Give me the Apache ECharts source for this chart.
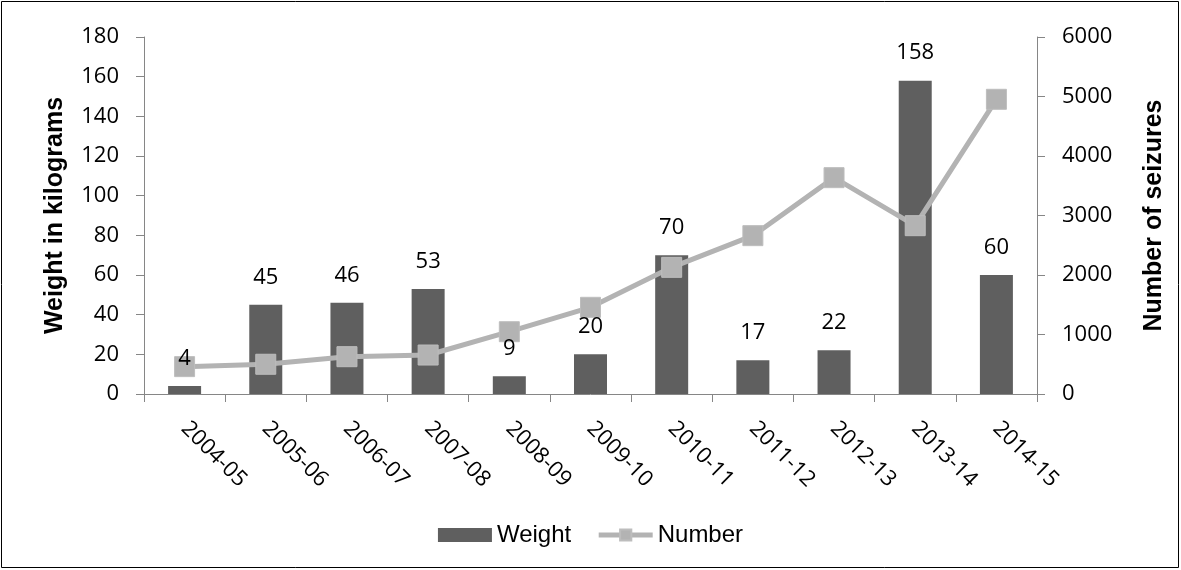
<!DOCTYPE html>
<html>
<head>
<meta charset="utf-8">
<script src="https://cdn.jsdelivr.net/npm/echarts@6/dist/echarts.min.js"></script>
<style>
  html, body { margin: 0; padding: 0; background: #fff; }
  #chart { width: 1181px; height: 570px; }
</style>
</head>
<body>
<div id="chart"></div>
<script>
// ---- data ----
var categories = ['2004-05','2005-06','2006-07','2007-08','2008-09','2009-10','2010-11','2011-12','2012-13','2013-14','2014-15'];
var weightKg = [4, 45, 46, 53, 9, 20, 70, 17, 22, 158, 60];
var seizureCount = [460, 500, 627, 655, 1047, 1457, 2129, 2661, 3636, 2829, 4953];
var seriesNames = ['Weight', 'Number'];
var leftAxisTitle = 'Weight in kilograms';
var rightAxisTitle = 'Number of seizures';

var labelFont = 'Open Sans';
var chart = echarts.init(document.getElementById('chart'), null, { renderer: 'canvas' });

var axisLineStyle = { color: '#868686', width: 1 };

chart.setOption({
  animation: false,
  backgroundColor: '#ffffff',
  graphic: [{
    type: 'rect',
    shape: { x: 1.5, y: 1.5, width: 1177, height: 566 },
    style: { fill: 'none', stroke: '#000', lineWidth: 1 },
    silent: true, z: 100
  }],
  grid: { left: 144, right: 144, top: 37, bottom: 176, containLabel: false },
  legend: {
    bottom: 18,
    left: 'center',
    itemWidth: 54,
    itemHeight: 14,
    itemGap: 25,
    textStyle: { fontFamily: 'Liberation Sans', fontSize: 24, color: '#000' },
    data: [
      { name: seriesNames[0], icon: 'rect' },
      { name: seriesNames[1], lineStyle: { width: 5, color: '#b3b3b3' } }
    ]
  },
  xAxis: {
    type: 'category',
    data: categories,
    boundaryGap: true,
    axisLine: { lineStyle: axisLineStyle },
    axisTick: { show: true, length: 8, lineStyle: axisLineStyle },
    axisLabel: {
      rotate: -45,
      interval: 0,
      margin: 31,
      padding: [31, 0, 0, 0],
      fontFamily: labelFont,
      fontSize: 22,
      color: '#000'
    },
    splitLine: { show: false }
  },
  yAxis: [{
    type: 'value',
    min: 0, max: 180, interval: 20,
    name: leftAxisTitle,
    nameLocation: 'middle',
    nameRotate: 90,
    nameGap: 76,
    nameTextStyle: { fontFamily: 'Liberation Sans', fontWeight: 'bold', fontSize: 25, color: '#000' },
    axisLine: { show: true, lineStyle: axisLineStyle },
    axisTick: { show: true, length: 8, lineStyle: axisLineStyle },
    axisLabel: { margin: 25, fontFamily: labelFont, fontSize: 22, color: '#000' },
    splitLine: { show: false }
  }, {
    type: 'value',
    position: 'right',
    min: 0, max: 6000, interval: 1000,
    name: rightAxisTitle,
    nameLocation: 'middle',
    nameRotate: 90,
    nameGap: 105,
    nameTextStyle: { fontFamily: 'Liberation Sans', fontWeight: 'bold', fontSize: 25, color: '#000' },
    axisLine: { show: true, lineStyle: axisLineStyle },
    axisTick: { show: true, length: 8, lineStyle: axisLineStyle },
    axisLabel: {
      margin: 25, fontFamily: labelFont, fontSize: 22, color: '#000',
      formatter: function (v) { return String(v); }
    },
    splitLine: { show: false }
  }],
  series: [{
    name: seriesNames[0],
    type: 'bar',
    yAxisIndex: 0,
    data: weightKg,
    barWidth: 33,
    itemStyle: { color: '#5f5f5f' },
    z: 2
  }, {
    name: seriesNames[1],
    type: 'line',
    yAxisIndex: 1,
    data: seizureCount,
    symbol: 'rect',
    symbolSize: 20,
    lineStyle: { color: '#b3b3b3', width: 5 },
    itemStyle: { color: '#b3b3b3', borderColor: '#bdbdbd', borderWidth: 1 },
    z: 3
  }, {
    // value labels for the Weight bars, drawn above the line
    name: 'weightLabels',
    type: 'scatter',
    yAxisIndex: 0,
    data: weightKg,
    symbol: 'circle',
    symbolSize: 1,
    itemStyle: { color: 'rgba(0,0,0,0)', opacity: 1 },
    silent: true,
    label: {
      show: true,
      position: 'top',
      distance: 16,
      fontFamily: labelFont,
      fontSize: 22,
      color: '#000000'
    },
    z: 5
  }]
});
</script>
</body>
</html>
